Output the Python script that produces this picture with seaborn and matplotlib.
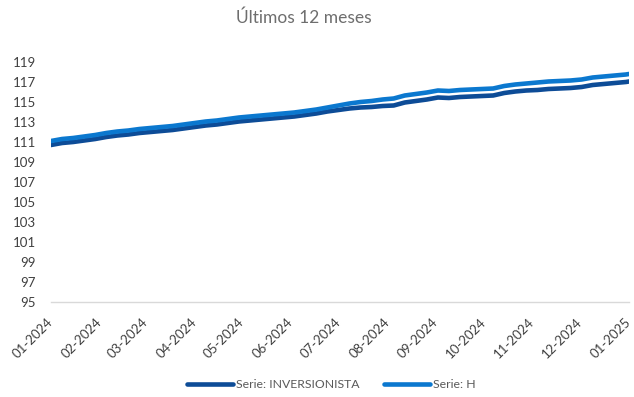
import matplotlib
matplotlib.use("Agg")
import matplotlib.pyplot as plt
import matplotlib.dates as mdates
import numpy as np
import pandas as pd
import seaborn as sns

# Weekly observations for 2024 plus the first day of 2025
fechas = list(pd.date_range("2024-01-01", periods=53, freq="7D")) + [pd.Timestamp("2025-01-01")]

serie_h = [
    111.10, 111.30, 111.40, 111.55, 111.70, 111.90, 112.05, 112.15, 112.30, 112.40,
    112.50, 112.60, 112.75, 112.90, 113.05, 113.15, 113.30, 113.45, 113.55, 113.65,
    113.75, 113.85, 113.95, 114.10, 114.25, 114.45, 114.65, 114.85, 115.00, 115.10,
    115.25, 115.35, 115.65, 115.80, 115.95, 116.15, 116.10, 116.20, 116.25, 116.30,
    116.35, 116.60, 116.75, 116.85, 116.95, 117.05, 117.10, 117.15, 117.25, 117.45,
    117.55, 117.65, 117.75, 117.80,
]

serie_inversionista = [
    110.70, 110.90, 111.00, 111.15, 111.30, 111.50, 111.65, 111.75, 111.90, 112.00,
    112.10, 112.20, 112.35, 112.50, 112.65, 112.75, 112.90, 113.05, 113.15, 113.25,
    113.35, 113.45, 113.55, 113.70, 113.85, 114.05, 114.20, 114.35, 114.45, 114.50,
    114.60, 114.65, 114.95, 115.10, 115.25, 115.45, 115.40, 115.50, 115.55, 115.60,
    115.65, 115.90, 116.05, 116.15, 116.20, 116.30, 116.35, 116.40, 116.50, 116.70,
    116.80, 116.90, 117.00, 117.05,
]

nombres = ["Serie: INVERSIONISTA", "Serie: H"]
colores = ["#0D4C97", "#0B78CF"]
y_ticks = list(range(95, 120, 2))
titulo = "Últimos 12 meses"

df = pd.DataFrame({
    "fecha": fechas * 2,
    "valor": serie_inversionista + serie_h,
    "serie": [nombres[0]] * len(fechas) + [nombres[1]] * len(fechas),
})

sns.set_theme(style="white")
plt.rcParams["font.family"] = ["Lato", "DejaVu Sans"]

fig = plt.figure(figsize=(6.34, 3.97), dpi=100)
ax = fig.add_axes([51 / 634, 1 - 302 / 397, (629 - 51) / 634, (302 - 62) / 397])

sns.lineplot(data=df, x="fecha", y="valor", hue="serie", hue_order=nombres,
             palette=colores, linewidth=3.3, ax=ax, legend=False)

ax.set_ylim(95, 119)
ax.set_yticks(y_ticks)
ax.set_xlim(pd.Timestamp("2024-01-01"), pd.Timestamp("2025-01-01"))
ax.xaxis.set_major_locator(mdates.MonthLocator())
ax.xaxis.set_major_formatter(mdates.DateFormatter("%m-%Y"))
ax.set_xlabel("")
ax.set_ylabel("")

for s in ["left", "right", "top"]:
    ax.spines[s].set_visible(False)
ax.spines["bottom"].set_color("#D9D9D9")
ax.spines["bottom"].set_linewidth(1.0)

ax.tick_params(axis="x", direction="out", length=5, width=1, color="#D9D9D9",
               labelsize=9.5, labelcolor="#404040", pad=8)
ax.tick_params(axis="y", length=0, labelsize=9.5, labelcolor="#404040", pad=11)
for lbl in ax.get_xticklabels():
    lbl.set_rotation(45)
    lbl.set_ha("right")
    lbl.set_va("center")
    lbl.set_rotation_mode("anchor")

fig.text(304 / 634, 1 - 18 / 397, titulo, ha="center", va="center",
         fontsize=12.5, color="#6E6E6E")

handles = [plt.Line2D([], [], color=c, linewidth=3.3) for c in colores]
fig.legend(handles, nombres, loc="center", bbox_to_anchor=(331 / 634, 1 - 385 / 397),
           ncol=2, frameon=False, fontsize=8.8, labelcolor="#595959",
           handlelength=3.8, handletextpad=0.2, columnspacing=2.0)

fig.savefig("out.png", dpi=100)
